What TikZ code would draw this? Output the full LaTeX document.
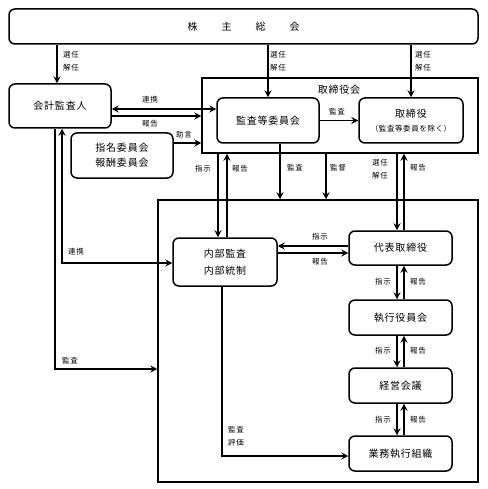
\documentclass[tikz,border=0pt]{standalone}
\usepackage{fontspec}
\setmainfont[LetterSpace=8]{Noto Sans CJK JP}
\usetikzlibrary{arrows.meta}
\newcommand{\lblfont}{\fontsize{7.5}{13}\selectfont}
\begin{document}
\begin{tikzpicture}[x=1pt,y=-1pt,
  box/.style={draw,line width=1.5pt,rounded corners=6pt,inner sep=0pt,font=\fontsize{10}{15}\selectfont,align=center},
  frame/.style={draw,line width=1.5pt,inner sep=0pt},
  arr/.style={line width=1.5pt,-{Stealth[length=7pt,width=7pt,inset=2.5pt]}},
  barr/.style={line width=1.5pt,{Stealth[length=7pt,width=7pt,inset=2.5pt]}-{Stealth[length=7pt,width=7pt,inset=2.5pt]}},
  lbl/.style={font=\lblfont,inner sep=0pt,align=left,anchor=west}]
\useasboundingbox (0,0) rectangle (487,489);
% frames
\node[frame,minimum width=276pt,minimum height=75pt] (board) at (340,115.5) {};
\node[font=\fontsize{10}{12}\selectfont,inner sep=0pt] (boardlbl) at (339,90) {取締役会};
\node[frame,minimum width=320pt,minimum height=282pt] (big) at (318,341) {};
% boxes
\node[box,minimum width=469pt,minimum height=35pt] (top) at (243.5,26.5) {株\hspace{24pt}主\hspace{24pt}総\hspace{24pt}会};
\node[box,minimum width=102pt,minimum height=44pt] (aud) at (60,106) {会計監査人};
\node[box,minimum width=102pt,minimum height=45pt] (kansa) at (268,120.5) {監査等委員会};
\node[box,minimum width=104pt,minimum height=45pt] (tori) at (411,120.5) {取締役\\[-1pt]{\fontsize{7.5}{9}\selectfont （監査等委員を除く）}};
\node[box,minimum width=102pt,minimum height=45pt] (shimei) at (122,155.5) {指名委員会\\報酬委員会};
\node[box,minimum width=104pt,minimum height=48pt,font=\fontsize{10}{17}\selectfont] (naibu) at (225,262) {内部監査\\内部統制};
\node[box,minimum width=103pt,minimum height=34pt] (daihyo) at (400.5,248) {代表取締役};
\node[box,minimum width=103pt,minimum height=35pt] (shikko) at (400.5,317.5) {執行役員会};
\node[box,minimum width=103pt,minimum height=35pt] (keiei) at (400.5,385.5) {経営会議};
\node[box,minimum width=103pt,minimum height=35pt] (gyomu) at (400.5,453.5) {業務執行組織};
% helper coordinates
\coordinate (xaud) at (57,0);
\coordinate (xa1) at (55,0);
\coordinate (xa2) at (62,0);
\coordinate (xn1) at (218,0);
\coordinate (xn2) at (227,0);
\coordinate (xk) at (280,0);
\coordinate (xs) at (326,0);
\coordinate (xd1) at (397,0);
\coordinate (xd2) at (404,0);
\coordinate (xe) at (222,0);
\coordinate (y109) at (0,109);
\coordinate (y116) at (0,116);
\coordinate (y143) at (0,143);
\coordinate (y246) at (0,246);
\coordinate (y253) at (0,253);
\coordinate (y263) at (0,263);
\coordinate (y369) at (0,369);
\coordinate (y456) at (0,456);
% connectors
\draw[arr] (xaud |- top.south) -- (xaud |- aud.north);
\draw[arr] (kansa.north |- top.south) -- (kansa.north);
\draw[arr] (tori.north |- top.south) -- (tori.north);
\draw[barr] (aud.east |- y109) -- (kansa.west |- y109);
\draw[arr] (aud.east |- y116) -- (board.west |- y116);
\draw[arr] (shimei.east |- y143) -- (board.west |- y143);
\draw[arr] (kansa.east) -- (tori.west);
\draw[arr] (xn1 |- board.south) -- (xn1 |- naibu.north);
\draw[arr] (xn2 |- naibu.north) -- (xn2 |- board.south);
\draw[arr] (xk |- kansa.south) -- (xk |- big.north);
\draw[arr] (xs |- board.south) -- (xs |- big.north);
\draw[arr] (xd1 |- board.south) -- (xd1 |- daihyo.north);
\draw[arr] (xd2 |- daihyo.north) -- (xd2 |- board.south);
\draw[arr] (daihyo.west |- y246) -- (naibu.east |- y246);
\draw[arr] (naibu.east |- y253) -- (daihyo.west |- y253);
\draw[arr] (xd1 |- daihyo.south) -- (xd1 |- shikko.north);
\draw[arr] (xd2 |- shikko.north) -- (xd2 |- daihyo.south);
\draw[arr] (xd1 |- shikko.south) -- (xd1 |- keiei.north);
\draw[arr] (xd2 |- keiei.north) -- (xd2 |- shikko.south);
\draw[arr] (xd1 |- keiei.south) -- (xd1 |- gyomu.north);
\draw[arr] (xd2 |- gyomu.north) -- (xd2 |- keiei.south);
\draw[barr] (xa2 |- aud.south) -- (xa2 |- y263) -- (naibu.west |- y263);
\draw[arr] (xa1 |- aud.south) -- (xa1 |- y369) -- (big.west |- y369);
\draw[arr] (xe |- naibu.south) -- (xe |- y456) -- (gyomu.west |- y456);
% labels
\node[lbl] (l1) at (63,61) {選任\\解任};
\node[lbl] (l2) at (270,61) {選任\\解任};
\node[lbl] (l3) at (415,61) {選任\\解任};
\node[lbl,anchor=center] (l4) at (150,100) {連携};
\node[lbl,anchor=center] (l5) at (150,124) {報告};
\node[lbl,anchor=center] (l6) at (184,135) {助言};
\node[lbl,anchor=center] (l7) at (337,112) {監査};
\node[lbl,anchor=center] (l8) at (203,169) {指示};
\node[lbl,anchor=center] (l9) at (240,169) {報告};
\node[lbl,anchor=center] (l10) at (295,168) {監査};
\node[lbl,anchor=center] (l11) at (338,168) {監督};
\node[lbl,anchor=center] (l12) at (380,169) {選任\\解任};
\node[lbl,anchor=center] (l13) at (418,168) {報告};
\node[lbl,anchor=center] (l14) at (320,237) {指示};
\node[lbl,anchor=center] (l15) at (320,262) {報告};
\node[lbl,anchor=center] (l16) at (383,282) {指示};
\node[lbl,anchor=center] (l17) at (418,282) {報告};
\node[lbl,anchor=center] (l18) at (383,351) {指示};
\node[lbl,anchor=center] (l19) at (418,351) {報告};
\node[lbl,anchor=center] (l20) at (383,420) {指示};
\node[lbl,anchor=center] (l21) at (418,420) {報告};
\node[lbl,anchor=center] (l22) at (76,252) {連携};
\node[lbl,anchor=center] (l23) at (70,361) {監査};
\node[lbl] (l24) at (228,436) {監査\\評価};
\end{tikzpicture}
\end{document}
